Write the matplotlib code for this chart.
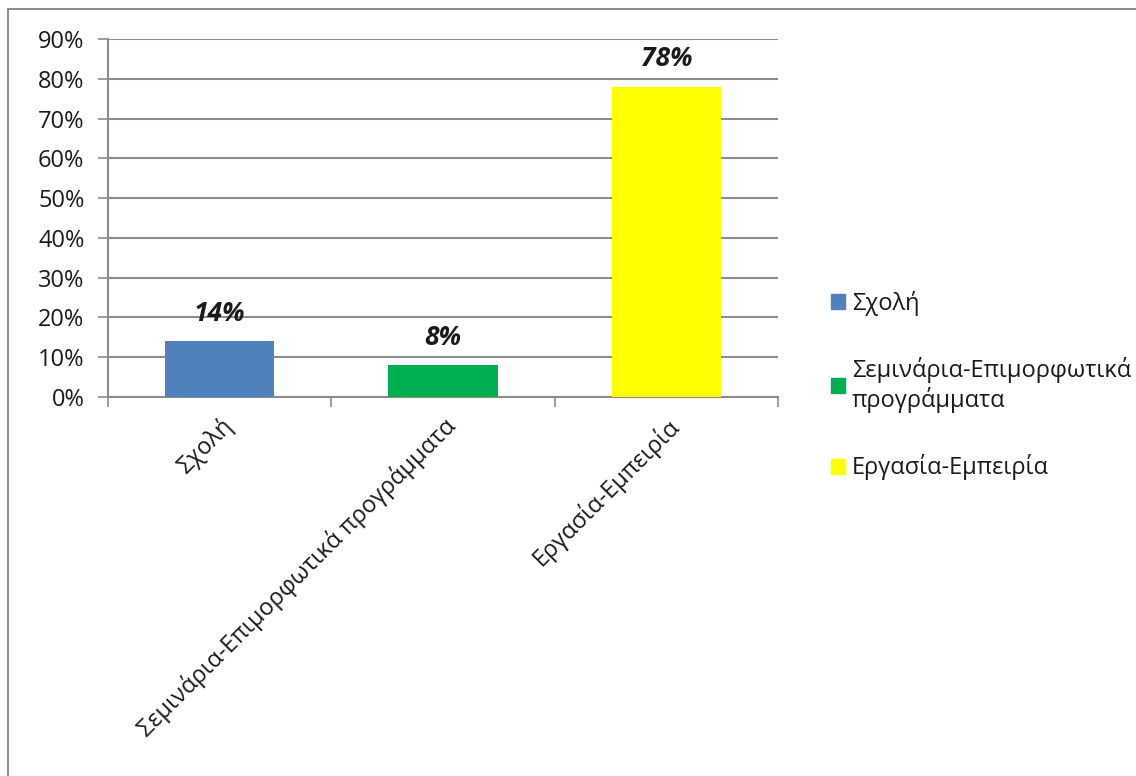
import numpy as np
import matplotlib
matplotlib.use("Agg")
import matplotlib.pyplot as plt
from matplotlib.patches import Rectangle
from matplotlib.ticker import PercentFormatter

plt.rcParams['font.family'] = ['Open Sans', 'DejaVu Sans']

categories = ["Σχολή", "Σεμινάρια-Επιμορφωτικά προγράμματα", "Εργασία-Εμπειρία"]
legend_labels = ["Σχολή", "Σεμινάρια-Επιμορφωτικά\nπρογράμματα", "Εργασία-Εμπειρία"]
values = [0.14, 0.08, 0.78]
colors = ["#4F81BD", "#00B050", "#FFFF00"]

fig = plt.figure(figsize=(11.36, 7.76), dpi=100)
ax = fig.add_axes([0.0951, 0.4884, 0.5898, 0.4613])

# outer chart frame (right and bottom run off the canvas)
fig.patches.append(Rectangle((8 / 1136, -0.05), 1.1, 1 - 9 / 776 + 0.05,
                             transform=fig.transFigure, fill=False,
                             edgecolor="#8c8c8c", linewidth=1.5))

x = np.arange(len(categories))
ax.bar(x, values, width=0.49, color=colors, zorder=3)

for xi, v in zip(x, values):
    ax.annotate(f"{v:.0%}", (xi, v), xytext=(0, 20), textcoords="offset points",
                ha="center", va="center", fontsize=19, fontweight="bold",
                fontstyle="italic", color="#1a1a1a")

ax.set_xlim(-0.5, len(categories) - 0.5)
ax.set_ylim(0, 0.9)
ax.set_yticks(np.arange(0, 0.91, 0.1))
ax.yaxis.set_major_formatter(PercentFormatter(1.0, decimals=0))
ax.yaxis.grid(True, color="#8c8c8c", linewidth=1.5, zorder=0)
ax.set_axisbelow(True)

ax.set_xticks(x)
ax.set_xticklabels(categories, rotation=45, ha="right", rotation_mode="anchor")
ax.set_xticks(np.arange(-0.5, len(categories)), minor=True)
ax.tick_params(axis="x", which="major", length=0, pad=12, labelsize=17, labelcolor="#1a1a1a")
ax.tick_params(axis="x", which="minor", length=7, width=1.2, color="#8c8c8c")
ax.tick_params(axis="y", length=7, width=1.2, color="#8c8c8c", labelsize=17,
               labelcolor="#1a1a1a", pad=10)

for side in ["top", "right"]:
    ax.spines[side].set_visible(False)
for side in ["left", "bottom"]:
    ax.spines[side].set_color("#8c8c8c")
    ax.spines[side].set_linewidth(1.5)

handles = [Rectangle((0, 0), 1, 1, color=c) for c in colors]
ax.legend(handles, legend_labels, loc="center left", bbox_to_anchor=(0.7125, 0.503),
          bbox_transform=fig.transFigure, frameon=False, fontsize=17,
          handlelength=0.6, handleheight=0.6, handletextpad=0.3,
          labelspacing=1.75, labelcolor="#1a1a1a")

fig.savefig("out.png", dpi=100, facecolor="white")
